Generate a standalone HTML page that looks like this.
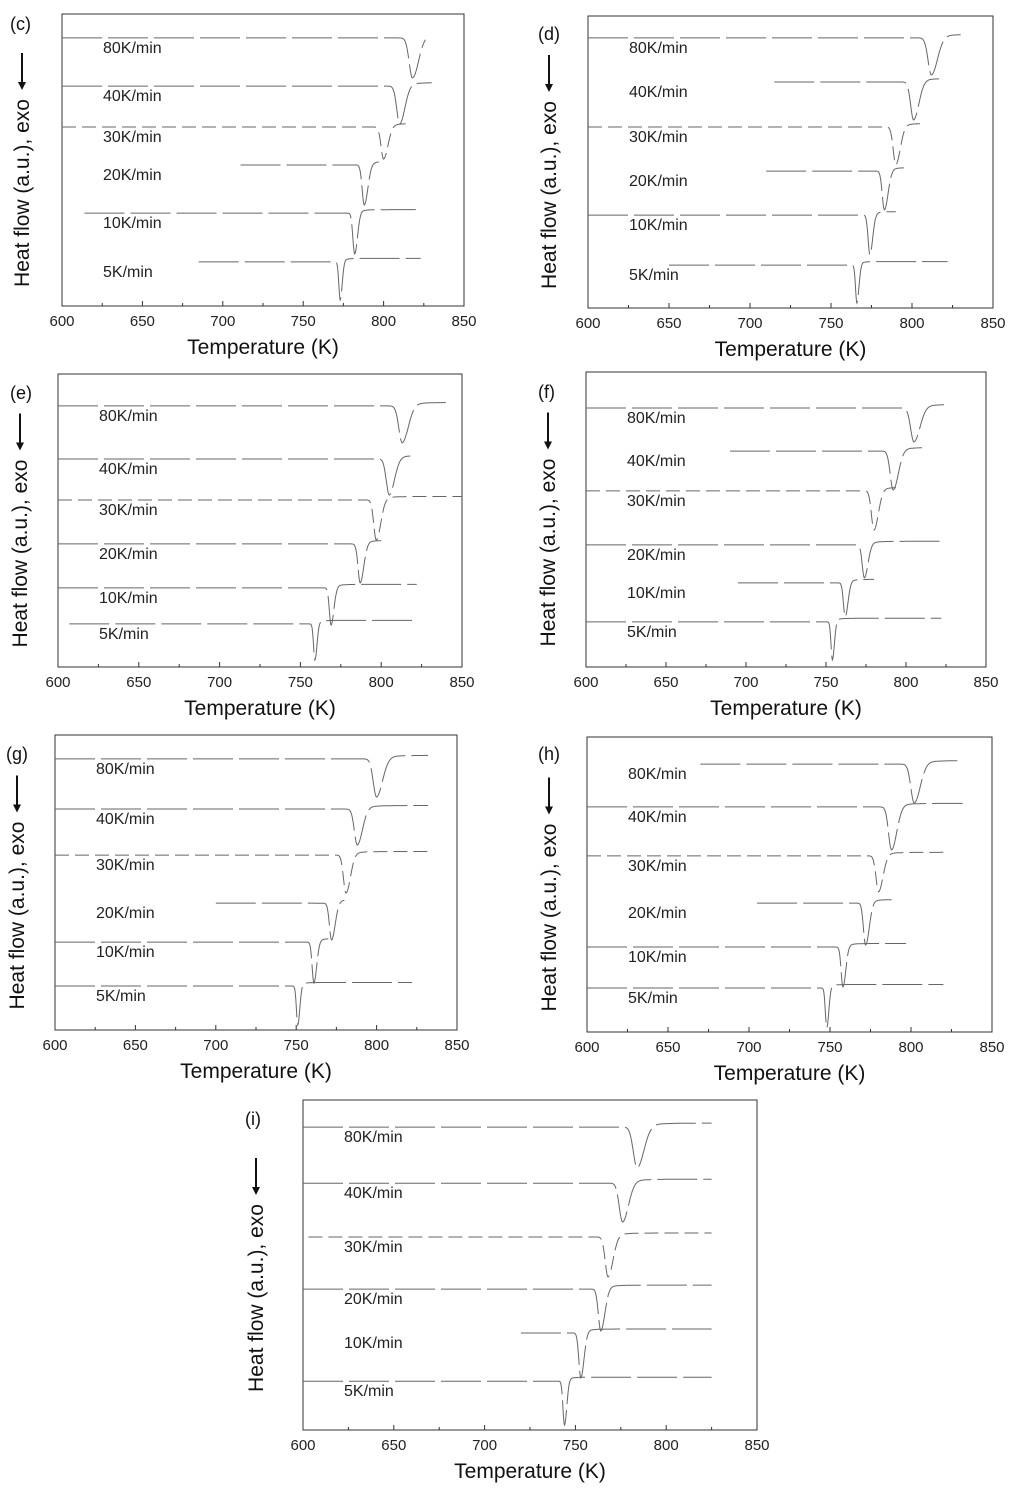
<!DOCTYPE html>
<html><head><meta charset="utf-8">
<style>
html,body{margin:0;padding:0;background:#fff;}
svg{display:block;font-family:"Liberation Sans",sans-serif;}
</style></head>
<body>
<svg id="fig" width="1024" height="1490" viewBox="0 0 1024 1490" xmlns="http://www.w3.org/2000/svg"></svg>
<script>
const rates = ["80K/min","40K/min","30K/min","20K/min","10K/min","5K/min"];
const xTicks = [600,650,700,750,800,850];
// per-panel data (temperature in K, heat flow in a.u. 0-100)
const c_peaks = [818,810,800,788,782,773];
const c_base  = [91.8,75.3,61.3,48.3,31.8,15.1];
const c_depth = [13.7,13,11,13.7,14,13];
const c_start = [600,600,600,711,614,685];
const c_end   = [826,830,816,797,820,823];
const d_peaks = [812,801,790,783,774,766];
const d_base  = [92.5,77.4,62,46.9,31.8,14.7];
const d_depth = [12.7,13,13,13.3,13.6,13];
const d_start = [600,715,600,710,600,650];
const d_end   = [830,818,805,795,790,822];
const e_peaks = [813,805,797,787,769,759];
const e_base  = [89.1,71,57,42,27,14.7];
const e_depth = [12.6,12.3,13.7,13.3,12.7,12.3];
const e_start = [600,600,600,600,600,607];
const e_end   = [840,818,850,800,822,822];
const f_peaks = [805,792,780,774,762,754];
const f_base  = [87.8,73.2,59.7,41.4,28.5,15.3];
const f_depth = [11.5,13.2,13.3,11.2,11.5,12.9];
const f_start = [600,690,600,600,695,600];
const f_end   = [825,810,795,822,780,822];
const g_peaks = [800,788,781,772,761,751];
const g_base  = [91.9,74.9,59.3,43,29.8,14.9];
const g_depth = [12.9,12.2,12.9,12.5,13.9,13.2];
const g_start = [600,600,600,700,600,600];
const g_end   = [832,832,832,780,770,822];
const h_peaks = [802,788,780,772,758,748];
const h_base  = [90.8,76.3,59.7,43.7,28.8,14.9];
const h_depth = [13.2,14.6,12.2,14.2,13.5,13.5];
const h_start = [670,600,600,705,600,600];
const h_end   = [832,832,823,788,797,820];
const i_peaks = [784,776,768,764,753,744];
const i_base  = [91.8,74.8,58.5,42.7,29.4,14.8];
const i_depth = [12.4,11.8,12.1,12.7,13.6,13.3];
const i_start = [600,600,603,600,720,600];
const i_end   = [825,825,825,825,825,825];

const panels = [
 {id:"c",x0:62,x1:464,y0:14,y1:306,peaks:c_peaks,base:c_base,depth:c_depth,start:c_start,end:c_end,lx:10,ly:30,ax:22},
 {id:"d",x0:588,x1:993,y0:16,y1:308,peaks:d_peaks,base:d_base,depth:d_depth,start:d_start,end:d_end,lx:538,ly:40,ax:549},
 {id:"e",x0:58,x1:462,y0:374,y1:667,peaks:e_peaks,base:e_base,depth:e_depth,start:e_start,end:e_end,lx:10,ly:399,ax:20},
 {id:"f",x0:586,x1:986,y0:372,y1:667,peaks:f_peaks,base:f_base,depth:f_depth,start:f_start,end:f_end,lx:538,ly:398,ax:548},
 {id:"g",x0:55,x1:457,y0:735,y1:1030,peaks:g_peaks,base:g_base,depth:g_depth,start:g_start,end:g_end,lx:6,ly:760,ax:17},
 {id:"h",x0:587,x1:992,y0:737,y1:1032,peaks:h_peaks,base:h_base,depth:h_depth,start:h_start,end:h_end,lx:538,ly:760,ax:549},
 {id:"i",x0:303,x1:757,y0:1100,y1:1430,peaks:i_peaks,base:i_base,depth:i_depth,start:i_start,end:i_end,lx:245,ly:1125,ax:256}
];
const NS="http://www.w3.org/2000/svg";
const svg=document.getElementById("fig");
function mk(tag,attrs,parent){const e=document.createElementNS(NS,tag);for(const k in attrs)e.setAttribute(k,attrs[k]);(parent||svg).appendChild(e);return e;}

panels.forEach(p=>{
  const g=mk("g",{});
  
  
  const xs=t=>p.x0+(t-600)/250*(p.x1-p.x0);
  const ys=v=>p.y1-v/100*(p.y1-p.y0);
  const box=mk("rect",{x:p.x0,y:p.y0,width:p.x1-p.x0,height:p.y1-p.y0,fill:"none",stroke:"#333","stroke-width":1},g);
  
  
  for(let t=600;t<=850;t+=25){
    const major=(t%50===0);
    const tk=mk("line",{x1:xs(t),x2:xs(t),y1:p.y1,y2:p.y1-(major?5:3),stroke:"#333","stroke-width":1},g);
    
    
  }
  xTicks.forEach(t=>{
    const tl=mk("text",{x:xs(t),y:p.y1+20,"font-size":15,"text-anchor":"middle",fill:"#222"},g);
    tl.textContent=t;
    
    
  });
  const xt=mk("text",{x:(p.x0+p.x1)/2,y:p.y1+48,"font-size":21,"text-anchor":"middle",fill:"#111"},g);
  xt.textContent="Temperature  (K)";
  
  
  const mid=(p.y0+p.y1)/2;
  const cy=mid+33;
  const yt=mk("text",{x:0,y:0,"font-size":21,"text-anchor":"middle",fill:"#111",transform:`translate(${p.ax+7},${cy}) rotate(-90)`},g);
  yt.textContent="Heat flow (a.u.), exo";
  
  
  const ay0=mid-107, ay1=mid-70;
  const ar=mk("line",{x1:p.ax,x2:p.ax,y1:ay0,y2:ay1-6,stroke:"#111","stroke-width":2},g);
  
  
  const ah=mk("polygon",{points:`${p.ax-4},${ay1-8} ${p.ax+4},${ay1-8} ${p.ax},${ay1}`,fill:"#111"},g);
  
  
  const pl=mk("text",{x:p.lx,y:p.ly,"font-size":18,fill:"#111"},g);
  pl.textContent="("+p.id+")";
  
  
  rates.forEach((r,k)=>{
    const pk=p.peaks[k],b=p.base[k],d=p.depth[k];
    const wl=1.2+(5-k)*0.35, wr=1.8+(5-k)*0.7;
    let dstr="";
    for(let t=p.start[k];t<=p.end[k];t+=0.25){
      const w=t<pk?wl:wr;
      let v=b-d*Math.exp(-Math.pow((t-pk)/w,2));
      if(t>pk) v+= 1.2*(1-Math.exp(-(t-pk)/(wr*1.5)));
      dstr+=(dstr?"L":"M")+xs(t).toFixed(1)+","+ys(v).toFixed(1);
    }
    const path=mk("path",{d:dstr,fill:"none",stroke:"#666","stroke-width":1,"stroke-dasharray":k===2?"14 6":"40 6"},g);
    
    
    const lb=mk("text",{x:p.x0+41,y:ys(b)+15,"font-size":16,fill:"#222"},g);
    lb.textContent=r;
    
    
  });
});
</script>
</body></html>
